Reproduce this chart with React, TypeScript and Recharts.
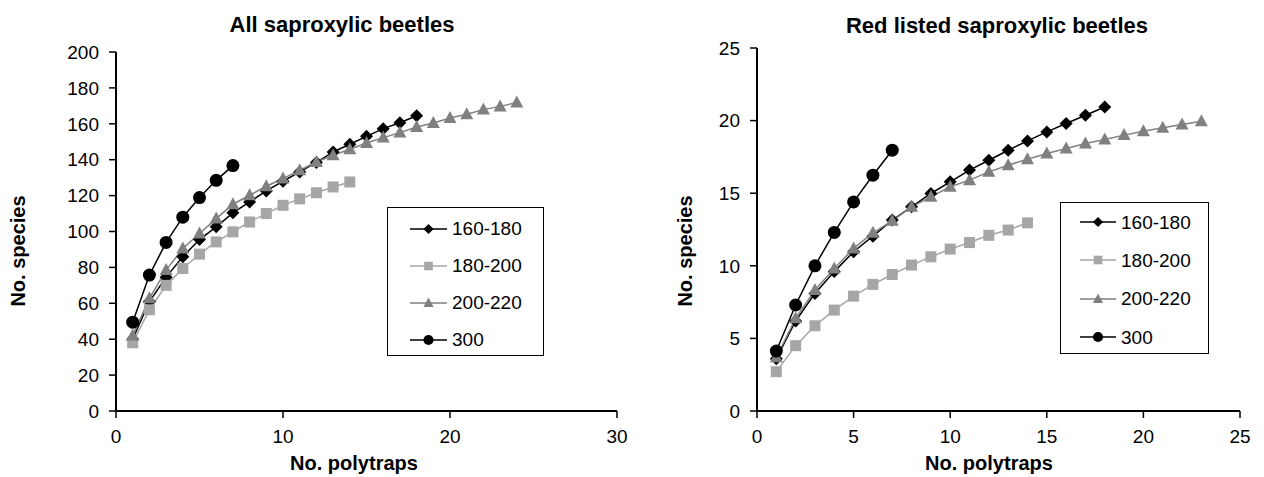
import React from 'react'
import { LineChart, Line, XAxis, YAxis, Label } from 'recharts'

const FONT = 'Arial, "Liberation Sans", sans-serif'

// number of polytraps pooled
const TRAPS = [1, 2, 3, 4, 5, 6, 7, 8, 9, 10, 11, 12, 13, 14, 15, 16, 17, 18, 19, 20, 21, 22, 23, 24]

// All saproxylic beetles
const ALL_160_180 = [40, 61, 74.5, 86, 95.5, 102.6, 110.4, 116.5, 122.6, 128, 133.2, 138.5, 144.3, 148.6, 153, 157.3, 160.6, 164.5]
const ALL_180_200 = [38, 56.4, 70, 79.4, 87.4, 94.2, 99.8, 105.3, 110, 114.6, 118.2, 121.6, 124.8, 127.6]
const ALL_200_220 = [42, 62.8, 78.5, 90.5, 98.9, 107.2, 115.2, 120.2, 125.2, 129.5, 134.1, 138.7, 142.5, 145.8, 149.3, 152.3, 155.1, 158.2, 160.4, 163.2, 165.3, 167.9, 169.7, 171.8]
const ALL_300 = [49.5, 75.7, 93.9, 108, 118.9, 128.5, 136.7]

// Red listed saproxylic beetles
const RED_160_180 = [3.6, 6.2, 8.1, 9.6, 10.97, 12.04, 13.15, 14.06, 14.98, 15.78, 16.59, 17.27, 17.96, 18.6, 19.22, 19.8, 20.37, 20.94]
const RED_180_200 = [2.71, 4.5, 5.87, 6.95, 7.91, 8.72, 9.4, 10.05, 10.62, 11.15, 11.6, 12.1, 12.46, 12.96]
const RED_200_220 = [3.7, 6.38, 8.33, 9.82, 11.2, 12.27, 13.1, 14.06, 14.75, 15.44, 15.9, 16.47, 16.93, 17.34, 17.73, 18.08, 18.42, 18.7, 19.0, 19.27, 19.5, 19.73, 19.96]
const RED_300 = [4.13, 7.3, 10.0, 12.3, 14.4, 16.24, 17.96]

const SERIES = [
  { name: '160-180', color: '#000000', shape: 'diamond' },
  { name: '180-200', color: '#a6a6a6', shape: 'square' },
  { name: '200-220', color: '#808080', shape: 'triangle' },
  { name: '300', color: '#000000', shape: 'circle' },
]

const ALL_TICKS_X = [0, 10, 20, 30]
const ALL_TICKS_Y = [0, 20, 40, 60, 80, 100, 120, 140, 160, 180, 200]
const RED_TICKS_X = [0, 5, 10, 15, 20, 25]
const RED_TICKS_Y = [0, 5, 10, 15, 20, 25]

const toPoints = (vals: number[]) => vals.map((v, i) => ({ x: TRAPS[i], y: v }))

function Marker({ shape, cx, cy, color, s = 1 }: any) {
  if (cx == null || cy == null) return null
  if (shape === 'diamond') {
    const r = 6.5 * s
    return <polygon points={`${cx},${cy - r} ${cx + r},${cy} ${cx},${cy + r} ${cx - r},${cy}`} fill={color} />
  }
  if (shape === 'square') {
    const h = 5.5 * s
    return <rect x={cx - h} y={cy - h} width={2 * h} height={2 * h} fill={color} />
  }
  if (shape === 'triangle') {
    return (
      <polygon
        points={`${cx},${cy - 7 * s} ${cx + 6.5 * s},${cy + 5 * s} ${cx - 6.5 * s},${cy + 5 * s}`}
        fill={color}
      />
    )
  }
  return <circle cx={cx} cy={cy} r={6.5 * s} fill={color} />
}

function LegendBox({ box }: any) {
  return (
    <div
      style={{
        position: 'absolute', left: box.left, top: box.top, width: box.width, height: box.height,
        boxSizing: 'border-box', border: '1px solid #000', background: '#fff',
        paddingTop: box.padTop, paddingLeft: box.padLeft, fontFamily: FONT, fontSize: 19,
      }}
    >
      {SERIES.map((s) => (
        <div key={s.name} style={{ height: box.row, display: 'flex', alignItems: 'center' }}>
          <svg width={box.line} height={16} style={{ display: 'block' }}>
            <line x1={0} y1={8} x2={box.line} y2={8} stroke={s.color} strokeWidth={1.5} />
            <Marker shape={s.shape} cx={box.line / 2} cy={8} color={s.color} s={0.78} />
          </svg>
          <span style={{ marginLeft: 5, lineHeight: 1 }}>{s.name}</span>
        </div>
      ))}
    </div>
  )
}

function Panel({ p }: any) {
  const axisLine = { stroke: '#000', strokeWidth: 2 }
  const tickLine = { stroke: '#000', strokeWidth: 1.5 }
  const tick = { fill: '#000', fontSize: 19, fontFamily: FONT }
  return (
    <div style={{ position: 'absolute', left: p.left, top: 0, width: p.width, height: 477 }}>
      <div
        style={{
          position: 'absolute', left: p.titleX - 250, top: p.titleY - 13, width: 500, textAlign: 'center',
          fontFamily: FONT, fontSize: 22, fontWeight: 'bold', lineHeight: '26px',
        }}
      >
        {p.title}
      </div>
      <LineChart width={p.width} height={477} margin={p.margin}>
        <XAxis
          type="number" dataKey="x" domain={p.xDomain} ticks={p.xTicks} interval={0}
          axisLine={axisLine} tickLine={tickLine} tickSize={7} tickMargin={12} tick={tick} height={60}
        >
          <Label
            content={() => (
              <text x={p.xLabelX} y={470} textAnchor="middle" fontFamily={FONT} fontSize={20} fontWeight="bold">
                No. polytraps
              </text>
            )}
          />
        </XAxis>
        <YAxis
          type="number" domain={p.yDomain} ticks={p.yTicks} interval={0} width={p.yWidth}
          axisLine={axisLine} tickLine={tickLine} tickSize={7} tickMargin={10} tick={tick}
        >
          <Label
            content={() => (
              <text
                x={p.yLabelX} y={251} textAnchor="middle" dominantBaseline="central"
                transform={`rotate(-90, ${p.yLabelX}, 251)`}
                fontFamily={FONT} fontSize={20} fontWeight="bold"
              >
                No. species
              </text>
            )}
          />
        </YAxis>
        {SERIES.map((s, i) => (
          <Line
            key={s.name}
            data={toPoints(p.values[i])}
            dataKey="y"
            name={s.name}
            type="linear"
            stroke={s.color}
            strokeWidth={1.5}
            dot={(d: any) => <Marker key={d.index} shape={s.shape} cx={d.cx} cy={d.cy} color={s.color} />}
            activeDot={false}
            isAnimationActive={false}
          />
        ))}
      </LineChart>
      <LegendBox box={p.legend} />
    </div>
  )
}

const PANELS = [
  {
    title: 'All saproxylic beetles', left: 0, width: 640,
    margin: { top: 52, right: 23, bottom: 6, left: 0 }, yWidth: 116,
    xDomain: [0, 30], xTicks: ALL_TICKS_X, yDomain: [0, 200], yTicks: ALL_TICKS_Y,
    values: [ALL_160_180, ALL_180_200, ALL_200_220, ALL_300],
    titleX: 342, titleY: 25, xLabelX: 354, yLabelX: 18,
    legend: { left: 387, top: 207, width: 157, height: 149, padTop: 2, padLeft: 22, row: 37, line: 37 },
  },
  {
    title: 'Red listed saproxylic beetles', left: 640, width: 624,
    margin: { top: 48, right: 24, bottom: 6, left: 0 }, yWidth: 117,
    xDomain: [0, 25], xTicks: RED_TICKS_X, yDomain: [0, 25], yTicks: RED_TICKS_Y,
    values: [RED_160_180, RED_180_200, RED_200_220, RED_300],
    titleX: 357, titleY: 26, xLabelX: 349, yLabelX: 45,
    legend: { left: 420, top: 202, width: 149, height: 152, padTop: 0, padLeft: 19, row: 38.3, line: 36 },
  },
]

export default function App() {
  return (
    <div style={{ position: 'absolute', left: 0, top: 0, width: 1264, height: 477, background: '#fff' }}>
      {PANELS.map((p) => (
        <Panel key={p.title} p={p} />
      ))}
    </div>
  )
}
